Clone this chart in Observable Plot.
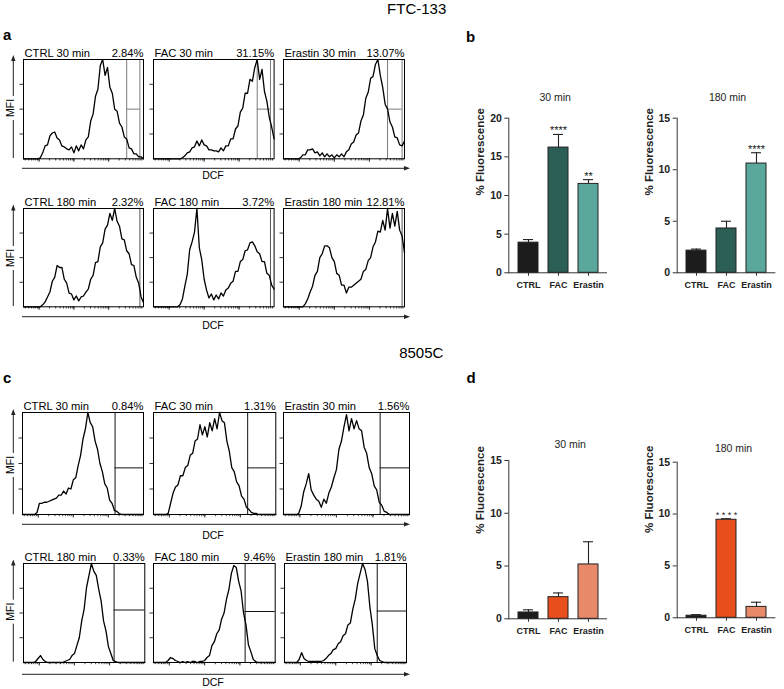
<!DOCTYPE html>
<html><head><meta charset="utf-8">
<script src="https://cdn.jsdelivr.net/npm/d3@7"></script>
<script src="https://cdn.jsdelivr.net/npm/@observablehq/plot@0.6"></script>
<style>
body{margin:0;background:#fff;}
#fig{position:relative;width:784px;height:689px;overflow:hidden;background:#fff;font-family:"Liberation Sans",Arial,Helvetica,sans-serif;}
</style></head>
<body><div id="fig"></div>
<script>
// ---------- DATA ----------
// histogram bins (DCF channel, % of axis width), counts as % of panel height
const bins = d3.range(0, 101, 2);
const aCtrl30 = [0,0,0,0,0,0,0, 1,6,13,14,23,26,27,21,19,13, 12,10,9,12,6,13,8,14,10,19, 22,38,45,63,70,94,100,84,92,72, 66,50,48,36,32,22,20,11,10,5, 5,2,2,0];
const aFac30 = [0,0,0,0,0,0,0,0,0,0,0,0, 1,3,6,7,11,12,18,13,19,14, 13,9,9,8,8,7,11,8,13,13, 20,20,30,33,47,51,66,66,80,78, 92,100,80,90,68,58,42,32,20];
const aEra30 = [0,0,0,0,0,0,0, 1,4,4,9,9,10,6,7,3,6, 2,5,2,4,1,4,2,5,2,7, 9,15,17,24,26,38,44,61,67,81, 83,95,100,84,72,55,50,37,32,22, 21,14,13,18];
const aCtrl180 = [0,0,0,0,0,0,0,0, 2,5,10,15,26,30,42,40,40,28, 24,14,13,7,11,6,10,11,15,18, 28,32,45,46,61,65,79,83,95,88, 100,87,82,69,68,57,54,43,42,30, 24,10,4];
const aFac180 = [0,0,0,0,0,0,0,0,0,0,0, 2,8,21,33,58,66,76,100,60,48, 28,17,9,13,7,12,8,14,11,17, 19,24,26,36,36,46,48,57,58,65, 66,62,56,54,46,46,34,32,22,18];
const aEra180 = [0,0,0,0,0,0,0,0,0, 3,8,15,21,32,36,50,54,62,62, 60,50,46,34,32,22,22,14,20,20, 22,24,26,28,36,38,47,50,61,66, 77,76,88,78,100,80,95,82,97,78, 72,55];
const cCtrl30 = [0,0,0,0,0,0, 2,11,11,12,12,13,14,15,16,19, 19,23,20,26,25,34,36,48,58,74, 84,100,90,86,72,64,50,42,30,26, 14,11,4,3,1, 0,0,0,0,0,0,0,0,0,0];
const cFac30 = [0,0,0,0,0,0, 1,11,21,27,29,38,38,46,48,58, 60,72,74,88,78,86,76,90,82,94, 84,100,92,90,72,62,46,42,32,28, 18,15,7,5,2,1,1, 0,0,0,0,0,0,0,0];
const cEra30 = [0,0,0,0,0,0, 1,8,22,30,40,24,19,15,13,7, 15,11,21,27,36,44,64,72,86,98, 82,94,84,92,84,82,66,60,46,40, 28,24,12,9,3,2, 0,0,0,0,0,0,0,0,0];
const cCtrl180 = [0,0,0,0,0, 1,4,7,3,1,0,0,0,0,0, 0,0,1,2,3,7,9,17,25,42, 54,76,88,100,92,88,74,62,42,32, 16,9,2,1, 0,0,0,0,0,0,0,0,0,0,0,0];
const cFac180 = [0,0,0,0,0,0, 2,5,4,2,1,0,1,0,1,0, 1,1,0,1,1,2,5,7,17,21, 29,33,44,50,64,74,90,98,96,82, 72,50,38,18,11,3,1, 0,0,0,0,0,0,0,0];
const cEra180 = [0,0,0,0,0,0, 3,10,4,2,1,1,1,1,1,1, 2,4,7,9,13,14,19,21,27,29, 38,40,54,64,80,90,100,94,82,56, 38,14,7,2,1, 0,0,0,0,0,0,0,0,0,0];

const histLabels30 = ["CTRL 30 min", "FAC 30 min", "Erastin 30 min"];
const histLabels180 = ["CTRL 180 min", "FAC 180 min", "Erastin 180 min"];
const histPctA1 = ["2.84%", "31.15%", "13.07%"];
const histPctA2 = ["2.32%", "3.72%", "12.81%"];
const histPctC1 = ["0.84%", "1.31%", "1.56%"];
const histPctC2 = ["0.33%", "9.46%", "1.81%"];

// bar charts
const groups = ["CTRL", "FAC", "Erastin"];
const b30Mean = [3.9, 16.2, 11.5], b30Sd = [0.4, 1.7, 0.55], b30Stars = ["", "****", "**"];
const b180Mean = [2.15, 4.3, 10.6], b180Sd = [0.15, 0.7, 1.05], b180Stars = ["", "", "****"];
const d30Mean = [0.6, 2.05, 5.15], d30Sd = [0.25, 0.4, 2.15], d30Stars = ["", "", ""];
const d180Mean = [0.2, 9.45, 1.05], d180Sd = [0.1, 0.1, 0.45], d180Stars = ["", "* * * *", ""];
const ticks20 = [0, 5, 10, 15, 20], ticks15 = [0, 5, 10, 15];
const colorsB = ["#1c1c1c", "#2b5e55", "#5aa89c"];
const colorsD = ["#1c1c1c", "#e84f1c", "#e88a69"];

// log-decade axis decoration for the DCF axis
const decadeStarts = [-16, 13, 42, 71];
const minorTicks = decadeStarts.flatMap(s => d3.range(1, 10).map(k => s + 29 * Math.log10(k))).filter(t => t >= 0 && t <= 100);
const majorTicks = decadeStarts.filter(t => t >= 0);

// ---------- DRAW ----------
const FONT = '"Liberation Sans", Arial, Helvetica, sans-serif';
const fig = document.getElementById("fig");

function place(el, left, top) {
  el.style.position = "absolute";
  el.style.left = left + "px";
  el.style.top = top + "px";
  fig.append(el);
}

function hist(vals, o) {
  const mL = 8, mR = 4, mT = 16, mB = 6;
  const data = bins.map((x, i) => ({x, y: vals[i]}));
  const p = Plot.plot({
    width: o.w + mL + mR, height: o.h + mT + mB,
    marginLeft: mL, marginRight: mR, marginTop: mT, marginBottom: mB,
    x: {domain: [0, 100]}, y: {domain: [0, 100]},
    style: {fontFamily: FONT, overflow: "visible", background: "transparent", color: "#000"},
    marks: [
      Plot.axisY({ticks: [25, 50, 75], tickSize: 3.5, tickFormat: () => "", label: null, stroke: "#333"}),
      Plot.axisX({ticks: minorTicks, tickSize: 2.2, tickFormat: () => "", label: null, stroke: "#444"}),
      Plot.axisX({ticks: majorTicks, tickSize: 3.5, tickFormat: () => "", label: null, stroke: "#333"}),
      Plot.ruleX(o.gates, {stroke: o.gc, strokeWidth: 1}),
      o.hline ? Plot.ruleY([o.hline], {y: "y", x1: "x1", x2: "x2", stroke: o.gc, strokeWidth: 1}) : null,
      Plot.line(data, {x: "x", y: "y", stroke: "#000", strokeWidth: 1.3}),
      Plot.frame({stroke: "#000", strokeWidth: 1}),
      Plot.text([o.label], {text: d => d, frameAnchor: "top-left", textAnchor: "start", lineAnchor: "bottom", dx: 1, dy: -2.8, fontSize: 11.2, fill: "#000"}),
      Plot.text([o.pct], {text: d => d, frameAnchor: "top-right", textAnchor: "end", lineAnchor: "bottom", dx: 0, dy: -2.8, fontSize: 11.2, fill: "#000"})
    ]
  });
  place(p, o.x - mL, o.top - mT);
}

// panel a row 1
const rowA1 = {top: 58.7, h: 99.3, xs: [22.7, 152.7, 283.3], ws: [120, 120.6, 121]};
[[aCtrl30, [86, 97], 97], [aFac30, [86, 97], 97], [aEra30, [86, 98], 98]].forEach(([v, g, e], i) =>
  hist(v, {x: rowA1.xs[i], w: rowA1.ws[i], top: rowA1.top, h: rowA1.h, gates: g, gc: "#7a7a7a",
    hline: {y: 50, x1: 86, x2: e}, label: histLabels30[i], pct: histPctA1[i]}));
// panel a row 2
const rowA2 = {top: 207.7, h: 98.3, xs: [22.7, 152.7, 283.3], ws: [120, 120.6, 121]};
[[aCtrl180, [97]], [aFac180, [97]], [aEra180, [98]]].forEach(([v, g], i) =>
  hist(v, {x: rowA2.xs[i], w: rowA2.ws[i], top: rowA2.top, h: rowA2.h, gates: g, gc: "#555",
    hline: null, label: histLabels180[i], pct: histPctA2[i]}));
// panel c row 1
const rowC1 = {top: 412.3, h: 102, xs: [21.7, 152.7, 283.3], ws: [121, 122.3, 126]};
[[cCtrl30, 76.5], [cFac30, 77], [cEra30, 76.7]].forEach(([v, g], i) =>
  hist(v, {x: rowC1.xs[i], w: rowC1.ws[i], top: rowC1.top, h: rowC1.h, gates: [g], gc: "#111",
    hline: {y: 45.7, x1: g, x2: 100}, label: histLabels30[i], pct: histPctC1[i]}));
// panel c row 2
const rowC2 = {top: 562.7, h: 99, xs: [22.7, 153.3, 284], ws: [121.3, 121.7, 122]};
[[cCtrl180, 74.7, 53], [cFac180, 75.3, 51.5], [cEra180, 76, 52]].forEach(([v, g, hy], i) =>
  hist(v, {x: rowC2.xs[i], w: rowC2.ws[i], top: rowC2.top, h: rowC2.h, gates: [g], gc: "#111",
    hline: {y: hy, x1: g, x2: 100}, label: histLabels180[i], pct: histPctC2[i]}));

function bars(means, sds, stars, colors, o) {
  const data = groups.map((g, i) => ({g, v: means[i], top: means[i] + sds[i], s: stars[i]}));
  const AX = "#333";
  const p = Plot.plot({
    width: o.W, height: o.H, marginLeft: o.mL, marginRight: o.mR, marginTop: o.mT, marginBottom: o.mB,
    x: {type: "band", domain: groups, paddingInner: 0.33, paddingOuter: 0.27, label: null},
    y: {domain: [0, o.max], label: null},
    color: {domain: groups, range: colors},
    style: {fontFamily: FONT, overflow: "visible", background: "transparent", color: "#222"},
    marks: [
      Plot.axisY({ticks: o.ticks, tickSize: 4, tickPadding: 3, fontSize: 10.5, fontWeight: "bold", label: null, stroke: AX}),
      Plot.axisX({tickSize: 3.5, tickPadding: 5.5, fontSize: 9, fontWeight: "bold", label: null, stroke: AX}),
      Plot.frame({anchor: "left", stroke: AX, strokeWidth: 1}),
      Plot.ruleY([0], {stroke: AX, strokeWidth: 1}),
      Plot.ruleX(data, {x: "g", y1: "v", y2: "top", stroke: "#222", strokeWidth: 1.1}),
      Plot.tickY(data, {x: "g", y: "top", stroke: "#222", strokeWidth: 1.1, insetLeft: 5, insetRight: 5}),
      Plot.barY(data, {x: "g", y: "v", fill: "g", stroke: "#222", strokeWidth: 1}),
      Plot.text(data.filter(d => d.s), {x: "g", y: "top", text: "s", dy: -3.5, fontSize: o.starSize, fill: "#222"}),
      Plot.text([o.title], {text: d => d, frameAnchor: "top", dx: o.tdx, dy: o.tdy, fontSize: 10.5, fill: "#222"}),
      Plot.text(["% Fluorescence"], {text: d => d, frameAnchor: "left", rotate: -90, dx: -28.3, dy: o.ldy, fontSize: 11.5, fontWeight: "bold", fill: "#222"})
    ]
  });
  place(p, o.left, o.top);
}

bars(b30Mean, b30Sd, b30Stars, colorsB, {left: 440, top: 75, W: 172, H: 219.3, mL: 68.3, mR: 5, mT: 42.7, mB: 22,
  max: 20, ticks: ticks20, title: "30 min", tdx: -3, tdy: -24.4, ldy: 0, starSize: 11});
bars(b180Mean, b180Sd, b180Stars, colorsB, {left: 610, top: 75, W: 170.4, H: 219.3, mL: 66.7, mR: 5, mT: 42.7, mB: 22,
  max: 15, ticks: ticks15, title: "180 min", tdx: 1, tdy: -24.4, ldy: 0, starSize: 11});
bars(d30Mean, d30Sd, d30Stars, colorsD, {left: 440, top: 415, W: 172, H: 225.3, mL: 68.3, mR: 5, mT: 45, mB: 22,
  max: 15, ticks: ticks15, title: "30 min", tdx: 12, tdy: -20, ldy: -6, starSize: 9});
bars(d180Mean, d180Sd, d180Stars, colorsD, {left: 610, top: 415, W: 170.4, H: 224.3, mL: 66.7, mR: 5, mT: 46.7, mB: 22,
  max: 15, ticks: ticks15, title: "180 min", tdx: 7, tdy: -17.7, ldy: -7, starSize: 9});

// ---------- decorations: titles, panel letters, axis arrows ----------
const ov = d3.create("svg").attr("width", 784).attr("height", 689)
  .style("font-family", FONT).style("pointer-events", "none");
ov.append("text").attr("x", 416.7).attr("y", 14.3).attr("text-anchor", "middle").attr("font-size", 15).text("FTC-133");
ov.append("text").attr("x", 421.3).attr("y", 358.3).attr("text-anchor", "middle").attr("font-size", 15).text("8505C");
[["a", 3, 40], ["b", 466, 41.7], ["c", 3, 383.3], ["d", 466.5, 383.3]].forEach(([t, x, y]) =>
  ov.append("text").attr("x", x).attr("y", y).attr("font-size", 15).attr("font-weight", "bold").text(t));

const yArrows = [{y0: 158, y1: 55, m: 108}, {y0: 306, y1: 204.5, m: 258}, {y0: 514.3, y1: 409, m: 465}, {y0: 661.7, y1: 559.5, m: 611.7}];
yArrows.forEach(a => {
  const x = 13.3;
  ov.append("line").attr("x1", x).attr("x2", x).attr("y1", a.y0).attr("y2", a.m + 12).attr("stroke", "#222");
  ov.append("line").attr("x1", x).attr("x2", x).attr("y1", a.m - 12).attr("y2", a.y1 + 4).attr("stroke", "#222");
  ov.append("path").attr("d", `M${x},${a.y1} L${x - 2.2},${a.y1 + 6} L${x + 2.2},${a.y1 + 6} Z`).attr("fill", "#222");
  ov.append("text").attr("transform", `translate(10.5,${a.m}) rotate(-90)`).attr("text-anchor", "middle")
    .attr("dy", "0.35em").attr("font-size", 10.5).text("MFI");
});
const xArrows = [{y: 168.3, t: 179}, {y: 316.7, t: 329}, {y: 524.3, t: 539}, {y: 674.3, t: 686}];
xArrows.forEach(a => {
  ov.append("line").attr("x1", 22).attr("x2", 405).attr("y1", a.y).attr("y2", a.y).attr("stroke", "#222");
  ov.append("path").attr("d", `M410,${a.y} L404,${a.y - 2.2} L404,${a.y + 2.2} Z`).attr("fill", "#222");
  ov.append("text").attr("x", 213).attr("y", a.t).attr("text-anchor", "middle").attr("font-size", 10.5).text("DCF");
});
place(ov.node(), 0, 0);
</script>
</body></html>
